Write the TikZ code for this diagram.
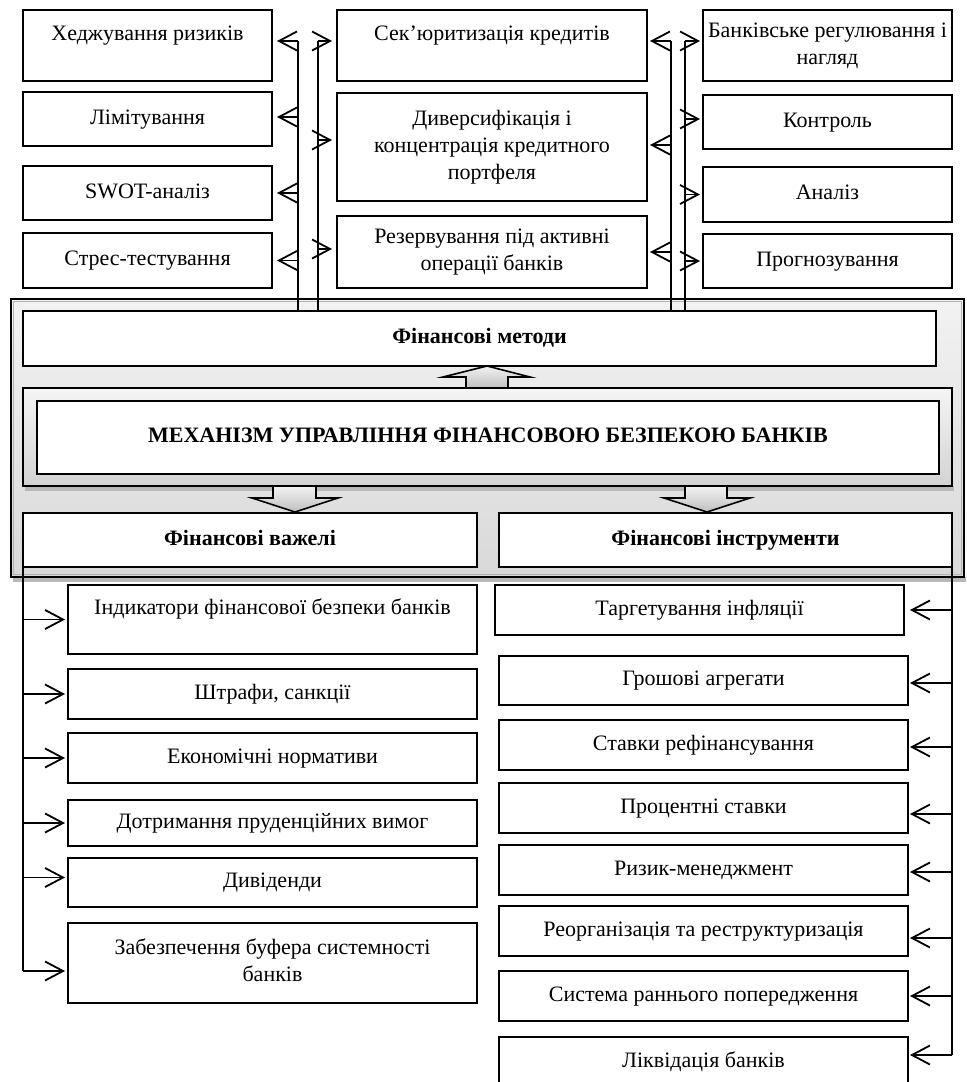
\documentclass[tikz,border=0pt]{standalone}
\usepackage{fontspec}
\setmainfont{Liberation Serif}
\usetikzlibrary{arrows.meta}
\newcommand\mkbox[7][]{%
  \pgfmathsetmacro\bxw{(#5-#3)*0.5}%
  \pgfmathsetmacro\bxh{(#6-#4)*0.5}%
  \node[box,minimum width=\bxw pt,minimum height=\bxh pt,#1] (#2) at ({(#3+#5)/2},{(#4+#6)/2}) {\strut #7\strut};}
\newcommand\upt[1]{\raisebox{5pt}[\height][\depth]{#1}}
\tikzset{
  box/.style={draw,line width=0.8pt,fill=white,inner sep=0pt,outer sep=0pt,align=center,
    font=\fontsize{11}{13.5}\selectfont},
  bold/.style={font=\fontsize{11}{13.5}\selectfont\bfseries},
  arr/.style={-{Straight Barb[length=9pt,width=9.5pt,line width=0.9pt]},line width=0.9pt},
  bus/.style={line width=0.9pt},
  blockarrow/.style={draw,line width=0.8pt,top color=gray!10,bottom color=gray!50},
  frameshade/.style={top color=gray!10,bottom color=gray!30},
  shadowstrip/.style={fill=gray!55}
}
\begin{document}
\begin{tikzpicture}[x=0.5pt,y=-0.5pt]
\useasboundingbox (0,0) rectangle (967,1082);
\clip (0,0) rectangle (967,1082);

% ---------- central frame ----------
\fill[shadowstrip] (13,577) rectangle (966,582);
\shade[frameshade] (11,299) rectangle (964,577);
\draw[gray!60,line width=0.5pt] (13.5,301.5) rectangle (961.5,574.5);
\draw[line width=0.9pt] (11,299) rectangle (964,577);

\fill[shadowstrip] (25,486) rectangle (954,491);
\shade[top color=gray!8,bottom color=gray!35] (23,388) rectangle (952,486);
\draw[line width=0.9pt] (23,388) rectangle (952,486);

\mkbox[bold]{fm}{23}{311}{936}{366}{Фінансові методи}
\mkbox[bold]{mech}{37}{401}{939}{474}{МЕХАНІЗМ УПРАВЛІННЯ ФІНАНСОВОЮ БЕЗПЕКОЮ БАНКІВ}
\mkbox[bold]{fv}{23}{513}{477}{567}{Фінансові важелі}
\mkbox[bold]{fi}{499}{513}{952}{567}{Фінансові інструменти}

% block arrows
\draw[blockarrow] (466,388) -- (466,377) -- (443,377) -- (487,366) -- (530,377) -- (508,377) -- (508,388) -- cycle;
\draw[blockarrow] (273,486) -- (273,498) -- (252,498) -- (295,512) -- (338,498) -- (316,498) -- (316,486) -- cycle;
\draw[blockarrow] (685,486) -- (685,498) -- (664,498) -- (707,512) -- (750,498) -- (727,498) -- (727,486) -- cycle;

% ---------- top boxes ----------
\mkbox{hr}{23}{10}{272}{81}{\upt{Хеджування ризиків}}
\mkbox{lim}{23}{92}{272}{146}{Лімітування}
\mkbox{swot}{23}{166}{272}{220}{SWOT-аналіз}
\mkbox{stress}{23}{233}{272}{288}{Стрес-тестування}

\mkbox{sec}{337}{10}{647}{81}{\upt{Сек’юритизація кредитів}}
\mkbox{dvf}{337}{93}{647}{201}{Диверсифікація і\\концентрація кредитного\\портфеля}
\mkbox{res}{337}{216}{647}{288}{Резервування під активні\\операції банків}

\mkbox{bank}{703}{10}{952}{81}{Банківське регулювання і\\нагляд}
\mkbox{ctrl}{703}{95}{952}{149}{Контроль}
\mkbox{anal}{703}{167}{952}{222}{Аналіз}
\mkbox{prog}{703}{234}{952}{288}{Прогнозування}

% top buses
\coordinate (l1) at (298,41);
\coordinate (l2) at (318,41);
\coordinate (r1) at (671,41);
\coordinate (r2) at (685,41);
\draw[bus] (l1) -- (l1 |- fm.north);
\draw[bus] (l2) -- (l2 |- fm.north);
\draw[bus] (r1) -- (r1 |- fm.north);
\draw[bus] (r2) -- (r2 |- fm.north);

\draw[arr,shorten >=2.5pt] (l1) -- (l1 -| hr.east);
\coordinate (limE) at ([yshift=1pt]lim.east);
\draw[arr,shorten >=2.5pt] (l1 |- limE) -- (limE);
\draw[arr,shorten >=2.5pt] (l1 |- swot.east) -- (swot.east);
\draw[arr,shorten >=2.5pt] (l1 |- stress.east) -- (stress.east);

\draw[arr,shorten >=2.5pt] (l2) -- (l2 -| sec.west);
\coordinate (dvfW) at ([yshift=3.5pt]dvf.west);
\draw[arr,shorten >=2.5pt] (l2 |- dvfW) -- (dvfW);
\coordinate (resW) at ([yshift=1.5pt]res.west);
\draw[arr,shorten >=2.5pt] (l2 |- resW) -- (resW);

\draw[arr,shorten >=1.5pt] (r1) -- (r1 -| sec.east);
\coordinate (dvfE) at ([yshift=1pt]dvf.east);
\draw[arr,shorten >=1.5pt] (r1 |- dvfE) -- (dvfE);
\draw[arr,shorten >=1.5pt] (r1 |- res.east) -- (res.east);

\draw[arr,shorten >=1.5pt] (r2) -- (r2 -| bank.west);
\coordinate (ctrlW) at ([yshift=1.5pt]ctrl.west);
\draw[arr,shorten >=1.5pt] (r2 |- ctrlW) -- (ctrlW);
\draw[arr,shorten >=1.5pt] (r2 |- anal.west) -- (anal.west);
\draw[arr,shorten >=1.5pt] (r2 |- prog.west) -- (prog.west);

% ---------- bottom left ----------
\mkbox{ind}{68}{585}{477}{654}{\upt{Індикатори фінансової безпеки банків}}
\mkbox{sht}{68}{669}{477}{719}{Штрафи, санкції}
\mkbox{eko}{68}{733}{477}{783}{Економічні нормативи}
\mkbox{dot}{68}{800}{477}{846}{Дотримання пруденційних вимог}
\mkbox{dyv}{68}{858}{477}{907}{Дивіденди}
\mkbox{zab}{68}{923}{477}{1003}{Забезпечення буфера системності\\банків}

\coordinate (lb) at (fv.south west);
\coordinate (zabW) at ([yshift=-4pt]zab.west);
\coordinate (dyvW) at ([yshift=2.5pt]dyv.west);
\draw[bus] (lb) -- (lb |- zabW);
\draw[arr,shorten >=1.5pt] (lb |- ind.west) -- (ind.west);
\draw[arr,shorten >=1.5pt] (lb |- sht.west) -- (sht.west);
\draw[arr,shorten >=1.5pt] (lb |- eko.west) -- (eko.west);
\draw[arr,shorten >=1.5pt] (lb |- dot.west) -- (dot.west);
\draw[arr,shorten >=1.5pt] (lb |- dyvW) -- (dyvW);
\draw[arr,shorten >=1.5pt] (lb |- zabW) -- (zabW);

% ---------- bottom right ----------
\mkbox{tar}{495}{585}{904}{635}{Таргетування інфляції}
\mkbox{gro}{499}{656}{908}{705}{Грошові агрегати}
\mkbox{sta}{499}{720}{908}{770}{Ставки рефінансування}
\mkbox{pro}{499}{783}{908}{833}{Процентні ставки}
\mkbox{riz}{499}{845}{908}{895}{Ризик-менеджмент}
\mkbox{reo}{499}{906}{908}{956}{Реорганізація та реструктуризація}
\mkbox{sys}{499}{971}{908}{1021}{Система раннього попередження}
\mkbox{liq}{499}{1037}{908}{1087}{Ліквідація банків}

\coordinate (rb) at (fi.south east);
\coordinate (groE) at ([yshift=-1.25pt]gro.east);
\coordinate (staE) at ([yshift=-1pt]sta.east);
\coordinate (proE) at ([yshift=-3pt]pro.east);
\coordinate (rizE) at ([yshift=-1pt]riz.east);
\coordinate (reoE) at ([yshift=-3.5pt]reo.east);
\coordinate (liqE) at ([yshift=3.5pt]liq.east);
\draw[bus] (rb) -- (rb |- liqE);
\draw[arr,shorten >=3pt] (rb |- tar.east) -- (tar.east);
\draw[arr,shorten >=1pt] (rb |- groE) -- (groE);
\draw[arr,shorten >=1pt] (rb |- staE) -- (staE);
\draw[arr,shorten >=1pt] (rb |- proE) -- (proE);
\draw[arr,shorten >=1pt] (rb |- rizE) -- (rizE);
\draw[arr,shorten >=1pt] (rb |- reoE) -- (reoE);
\draw[arr,shorten >=1pt] (rb |- sys.east) -- (sys.east);
\draw[arr,shorten >=1pt] (rb |- liqE) -- (liqE);
\end{tikzpicture}
\end{document}
